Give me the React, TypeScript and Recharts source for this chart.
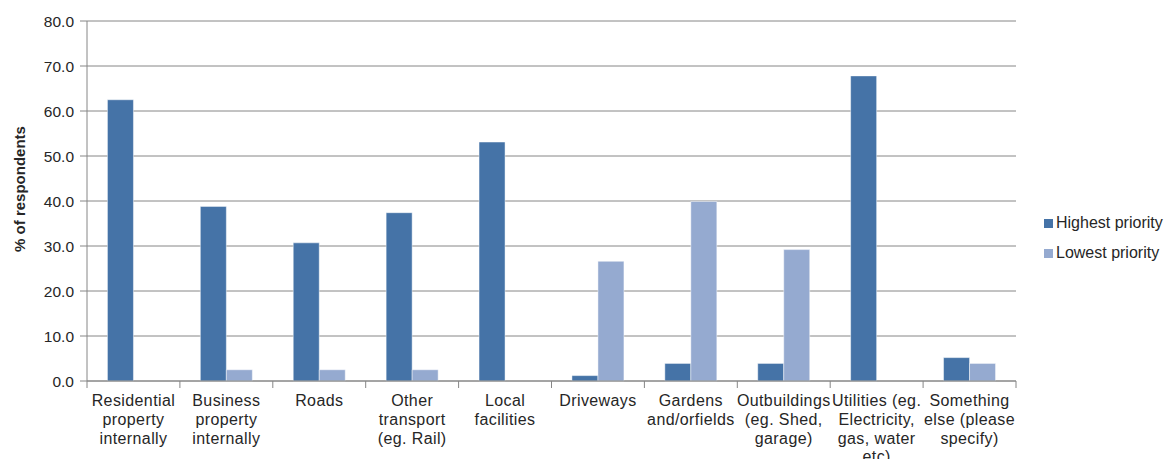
import React from "react";
import { BarChart, Bar, XAxis, YAxis, CartesianGrid, Legend } from "recharts";

const categories = [
  "Residential\nproperty\ninternally",
  "Business\nproperty\ninternally",
  "Roads",
  "Other\ntransport\n(eg. Rail)",
  "Local\nfacilities",
  "Driveways",
  "Gardens\nand/orfields",
  "Outbuildings\n(eg. Shed,\ngarage)",
  "Utilities (eg.\nElectricity,\ngas, water\netc)",
  "Something\nelse (please\nspecify)",
];
const highestPriority = [62.5, 38.8, 30.7, 37.4, 53.1, 1.2, 3.9, 3.9, 67.8, 5.2];
const lowestPriority = [0, 2.5, 2.5, 2.5, 0, 26.6, 39.9, 29.2, 0, 3.9];
const yTicks = [0, 10, 20, 30, 40, 50, 60, 70, 80];
const seriesNames = ["Highest priority", "Lowest priority"];

const COLORS = ["#4573A7", "#95AAD0"];
const AXIS = "#868686";
const TEXT = "#262626";
const FONT = "'Liberation Sans', Arial, sans-serif";

const data = categories.map((c, i) => ({
  name: c,
  high: highestPriority[i],
  low: lowestPriority[i],
}));

const W = 1170;
const H = 459;
const MARGIN = { top: 21, right: 154, left: 0, bottom: 0 };
const Y_W = 87;
const PLOT_W = W - MARGIN.left - MARGIN.right - Y_W;

const XTick = (props: any) => {
  const { x, y, payload } = props;
  const idx = payload.index ?? 0;
  const half =
    typeof payload.offset === "number" && payload.offset > 0
      ? payload.offset
      : PLOT_W / categories.length / 2;
  const lines = String(payload.value).split("\n");
  return (
    <g>
      <line x1={x - half} x2={x - half} y1={y} y2={y + 7} stroke={AXIS} strokeWidth={1} />
      {idx === categories.length - 1 && (
        <line x1={x + half} x2={x + half} y1={y} y2={y + 7} stroke={AXIS} strokeWidth={1} />
      )}
      <text
        x={x}
        y={y}
        textAnchor="middle"
        fill={TEXT}
        fontSize={16}
        fontFamily={FONT}
        letterSpacing={0.4}
      >
        {lines.map((l, i) => (
          <tspan key={i} x={x} y={y + 25 + i * 18.8}>
            {l}
          </tspan>
        ))}
      </text>
    </g>
  );
};

const LegendContent = () => (
  <div style={{ fontFamily: FONT, fontSize: 16, color: TEXT }}>
    {seriesNames.map((n, i) => (
      <div key={n} style={{ height: 30, display: "flex", alignItems: "center", whiteSpace: "nowrap" }}>
        <span
          style={{
            display: "inline-block",
            width: 9,
            height: 9,
            background: COLORS[i],
            marginRight: 3,
          }}
        />
        <span>{n}</span>
      </div>
    ))}
  </div>
);

const YLabel = (props: any) => {
  const vb = props.viewBox || { x: 0, y: 21, width: 87, height: 360 };
  const cx = 19;
  const cy = vb.y + vb.height / 2 - 12;
  return (
    <text
      x={cx}
      y={cy}
      transform={`rotate(-90, ${cx}, ${cy})`}
      textAnchor="middle"
      dominantBaseline="central"
      fontFamily={FONT}
      fontSize={15}
      fontWeight="bold"
      fill={TEXT}
    >
      % of respondents
    </text>
  );
};

export default function App() {
  return (
    <div style={{ position: "absolute", left: 0, top: 0, width: W, height: H, background: "#fff" }}>
      <BarChart
        width={W}
        height={H}
        data={data}
        margin={MARGIN}
        barCategoryGap="22%"
        barGap={0}
      >
        <CartesianGrid vertical={false} stroke={AXIS} strokeWidth={1} />
        <XAxis
          dataKey="name"
          interval={0}
          height={78}
          tickSize={0}
          tickMargin={0}
          tickLine={false}
          axisLine={{ stroke: AXIS, strokeWidth: 1 }}
          tick={<XTick />}
        />
        <YAxis
          width={Y_W}
          domain={[0, 80]}
          ticks={yTicks}
          interval={0}
          tickFormatter={(v: number) => v.toFixed(1)}
          tickSize={7}
          tickMargin={6}
          tickLine={{ stroke: AXIS }}
          axisLine={{ stroke: AXIS, strokeWidth: 1 }}
          tick={{ fill: TEXT, fontSize: 15.5, fontFamily: FONT }}
          label={<YLabel />}
        />
        <Legend
          layout="horizontal"
          verticalAlign="middle"
          align="center"
          content={<LegendContent />}
          wrapperStyle={{ left: 1044, top: 208, width: 126, height: 60 }}
        />
        <Bar
          dataKey="high"
          name={seriesNames[0]}
          fill={COLORS[0]}
          stroke="#ffffff"
          strokeOpacity={0.45}
          strokeWidth={1}
          isAnimationActive={false}
        />
        <Bar
          dataKey="low"
          name={seriesNames[1]}
          fill={COLORS[1]}
          stroke="#ffffff"
          strokeOpacity={0.45}
          strokeWidth={1}
          isAnimationActive={false}
        />
      </BarChart>
    </div>
  );
}
